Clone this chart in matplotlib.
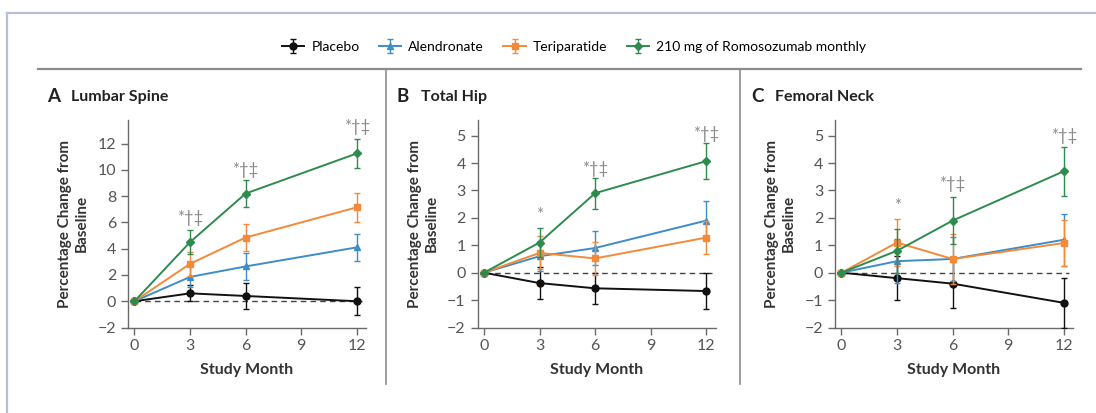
import numpy as np
import matplotlib.pyplot as plt
from matplotlib.lines import Line2D

plt.rcParams['font.family'] = ['Lato', 'DejaVu Sans']

# data
months = [0, 3, 6, 12]
series_names = ["Placebo", "Alendronate", "Teriparatide", "210 mg of Romosozumab monthly"]

spine_placebo = [0, 0.6, 0.4, 0.0]
spine_placebo_err = [0, 0.6, 1.0, 1.05]
spine_alen = [0, 1.85, 2.65, 4.1]
spine_alen_err = [0, 0.8, 1.0, 1.0]
spine_teri = [0, 2.85, 4.85, 7.15]
spine_teri_err = [0, 0.9, 1.0, 1.1]
spine_romo = [0, 4.5, 8.2, 11.25]
spine_romo_err = [0, 0.9, 1.0, 1.1]

hip_placebo = [0, -0.38, -0.57, -0.67]
hip_placebo_err = [0, 0.58, 0.57, 0.65]
hip_alen = [0, 0.6, 0.9, 1.9]
hip_alen_err = [0, 0.55, 0.63, 0.7]
hip_teri = [0, 0.72, 0.52, 1.28]
hip_teri_err = [0, 0.6, 0.6, 0.6]
hip_romo = [0, 1.1, 2.9, 4.07]
hip_romo_err = [0, 0.52, 0.56, 0.65]

neck_placebo = [0, -0.2, -0.4, -1.1]
neck_placebo_err = [0, 0.8, 0.9, 0.9]
neck_alen = [0, 0.42, 0.5, 1.2]
neck_alen_err = [0, 0.8, 0.8, 0.95]
neck_teri = [0, 1.1, 0.5, 1.08]
neck_teri_err = [0, 0.85, 0.9, 0.85]
neck_romo = [0, 0.8, 1.9, 3.7]
neck_romo_err = [0, 0.8, 0.85, 0.9]

spine_marks = [(3, 6.3, "*†‡"), (6, 10.0, "*†‡"), (12, 13.3, "*†‡")]
hip_marks = [(3, 2.1, "*"), (6, 3.77, "*†‡"), (12, 5.05, "*†‡")]
neck_marks = [(3, 2.45, "*"), (6, 3.25, "*†‡"), (12, 5.0, "*†‡")]

colors = ["#111111", "#3c8dc8", "#f28a3a", "#2e8b4e"]
markers = ["o", "^", "s", "D"]
msizes = [5, 5, 4.5, 4.5]

W, H = 1096, 413
fig = plt.figure(figsize=(W / 100, H / 100), dpi=100)


def px(x, y):
    return x / W, 1 - y / H


panels = [
    dict(letter="A", title="Lumbar Spine", left=128, lx=47,
         vals=[spine_placebo, spine_alen, spine_teri, spine_romo],
         errs=[spine_placebo_err, spine_alen_err, spine_teri_err, spine_romo_err],
         ylim=(-2, 13.8), yticks=np.arange(-2, 13, 2), marks=spine_marks),
    dict(letter="B", title="Total Hip", left=477.5, lx=397,
         vals=[hip_placebo, hip_alen, hip_teri, hip_romo],
         errs=[hip_placebo_err, hip_alen_err, hip_teri_err, hip_romo_err],
         ylim=(-2, 5.57), yticks=np.arange(-2, 6, 1), marks=hip_marks),
    dict(letter="C", title="Femoral Neck", left=835, lx=751,
         vals=[neck_placebo, neck_alen, neck_teri, neck_romo],
         errs=[neck_placebo_err, neck_alen_err, neck_teri_err, neck_romo_err],
         ylim=(-2, 5.57), yticks=np.arange(-2, 6, 1), marks=neck_marks),
]

axis_gray = "#6a6a6a"
handles = []
for i, p in enumerate(panels):
    x0, y0 = px(p["left"], 327.5)
    ax = fig.add_axes([x0, y0, 238 / W, 207.5 / H])
    ax.set_xlim(-0.35, 12.5)
    ax.set_ylim(*p["ylim"])
    ax.axhline(0, xmin=0.03, xmax=0.985, color="#444444", lw=1, ls=(0, (4, 3)), zorder=1)
    hs = []
    for k in range(4):
        h = ax.errorbar(months, p["vals"][k], yerr=p["errs"][k], color=colors[k],
                        marker=markers[k], ms=msizes[k], lw=1.4, elinewidth=1,
                        capsize=2, capthick=1, zorder=3 + k)
        hs.append(h)
    if i == 0:
        handles = hs
    for mx, my, s in p["marks"]:
        ax.text(mx, my, s, ha="center", va="center", fontsize=12, color="#8a8a8a")
    ax.set_xticks([0, 3, 6, 9, 12])
    ax.set_yticks(p["yticks"])
    for side in ["top", "right"]:
        ax.spines[side].set_visible(False)
    for side in ["left", "bottom"]:
        ax.spines[side].set_color(axis_gray)
        ax.spines[side].set_linewidth(1)
    ax.tick_params(colors=axis_gray, labelcolor="#555555", labelsize=11.5, length=5, width=1)
    ax.set_xlabel("Study Month", fontsize=11.5, fontweight="bold", color="#333333", labelpad=7)
    ax.set_ylabel("Percentage Change from\nBaseline", fontsize=11, fontweight="bold",
                  color="#333333", labelpad=6, linespacing=1.25)
    fig.text(*px(p["lx"], 96), p["letter"], fontsize=13.5, fontweight="bold",
             color="#222222", va="center")
    fig.text(*px(p["lx"] + 24, 97), p["title"], fontsize=11.5, fontweight="bold",
             color="#222222", va="center")

fig.legend(handles, series_names, loc="center", bbox_to_anchor=px(574, 47), ncol=4,
           frameon=False, fontsize=10, handlelength=1.6, handletextpad=0.5,
           columnspacing=1.4)

# frame and rules
fig.add_artist(Line2D([px(7, 0)[0]] * 2, [0, px(0, 12.5)[1]], color="#b6bed8", lw=1.6))
fig.add_artist(Line2D([px(7, 0)[0], 1], [px(0, 12.5)[1]] * 2, color="#b6bed8", lw=1.6))
fig.add_artist(Line2D([px(38, 0)[0], px(1081, 0)[0]], [px(0, 69)[1]] * 2,
                      color="#8c8c8c", lw=1.6))
for xd in [386, 740]:
    fig.add_artist(Line2D([px(xd, 0)[0]] * 2, [px(0, 69)[1], px(0, 384)[1]],
                          color="#8c8c8c", lw=1.2))

fig.savefig("out.png", dpi=100)
